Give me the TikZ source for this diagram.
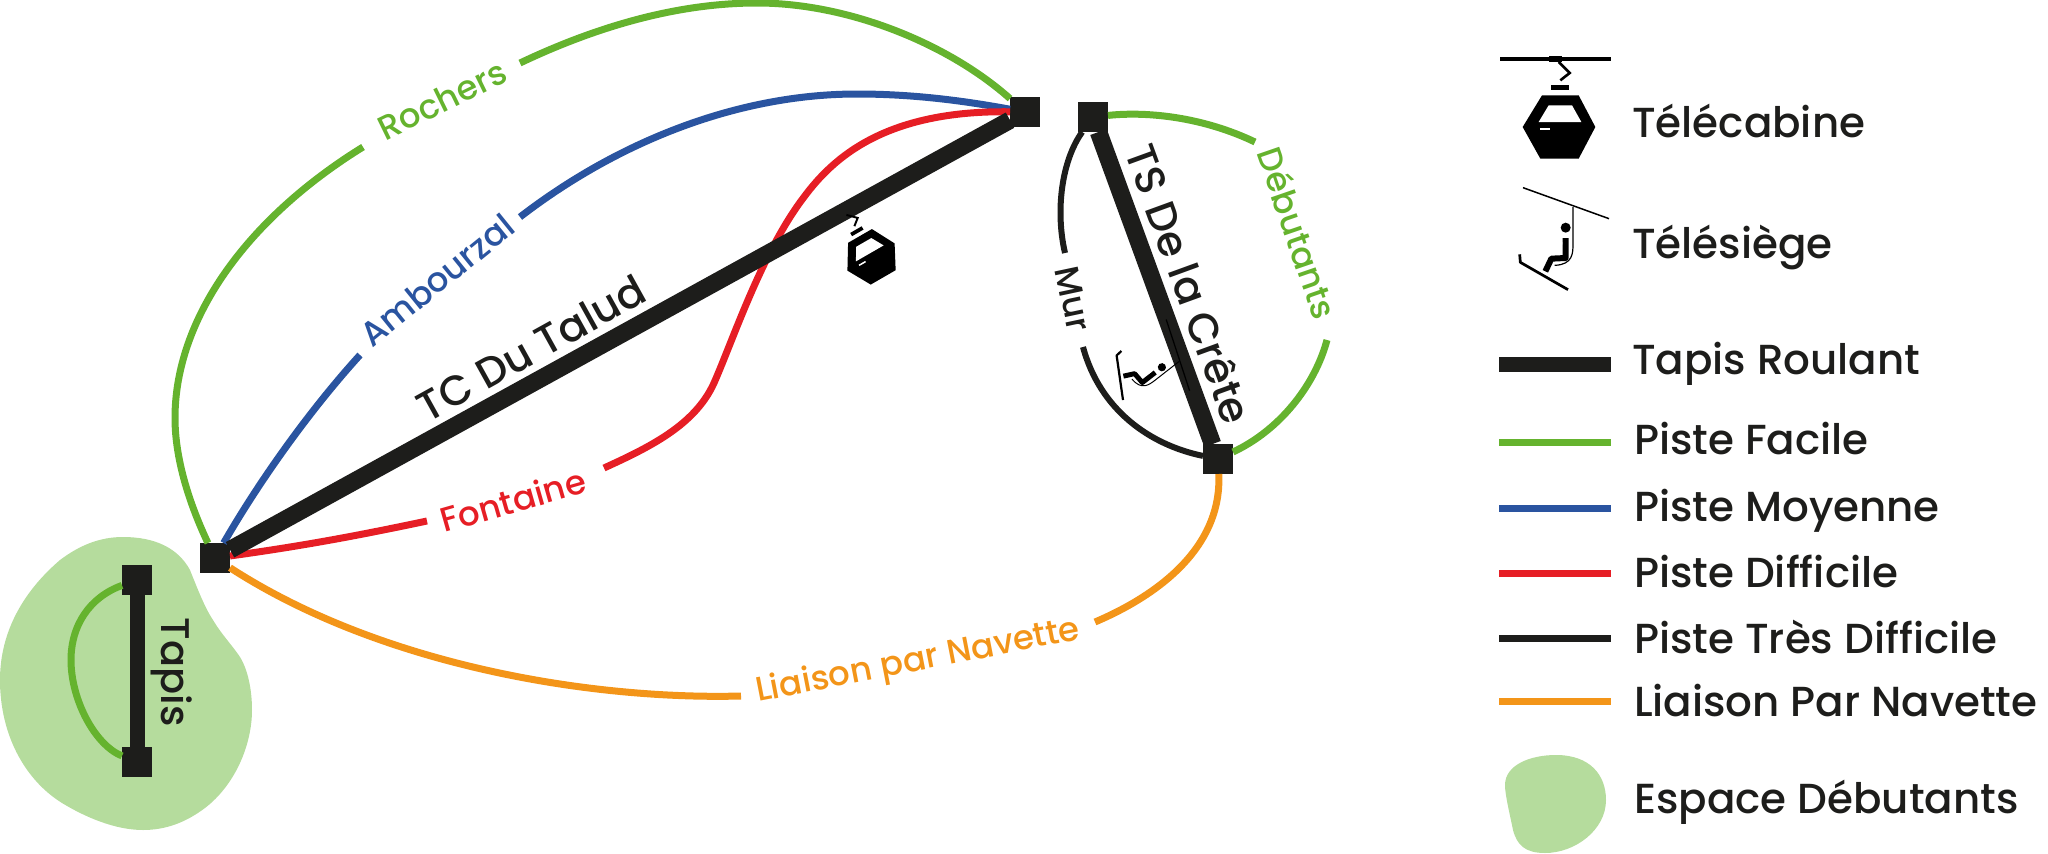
\documentclass[tikz,border=0pt]{standalone}
\usepackage{fontspec}
\setmainfont{Poppins Medium}
\definecolor{pgreen}{HTML}{65B32E}
\definecolor{pblue}{HTML}{2A54A0}
\definecolor{pred}{HTML}{E61E25}
\definecolor{pblack}{HTML}{1D1D1B}
\definecolor{porange}{HTML}{F39519}
\definecolor{pzone}{HTML}{B5DC9D}
\newcommand\cabinshape[4]{%
  \begin{scope}[shift={(#1,#2)},rotate=#3,scale=#4/3]
    \fill[black] (-51,-95) -- (59,-95) -- (109,0) -- (59,95) -- (-56,95) -- (-109,0) -- cycle;
    \fill[white] (-31,-65) -- (39,-65) -- (67,-15) -- (-61,-15) -- cycle;
    \fill[white] (-58,2) rectangle (-28,8);
    \fill[black] (-24,-125) rectangle (29,-110);
    \draw[black,line width=#4*2.6pt] (-1,-195) -- (32,-162) -- (4,-140);
  \end{scope}}
\newcommand\chairshape[4]{%
  \begin{scope}[shift={(#1,#2)},rotate=#3,scale=#4/3]
    \draw[black,line width=#4*1.5pt] (-129,-46) -- (129,47);
    \draw[black,line width=#4*1.2pt] (21,12) -- (21,122) .. controls (21,150) and (21,185) .. (-34,187);
    \fill[black] (-1,74) circle (15);
    \draw[black,line width=#4*6pt,line join=round] (-1,105) -- (-1,165) -- (-44,167) -- (-62,205);
    \draw[white,line width=#4*0.8pt,line join=round] (-12,118) -- (-17,148) -- (-40,155);
    \draw[black,line width=#4*2.7pt,line join=round] (-139,154) -- (-137,178) -- (6,260);
  \end{scope}}
\tikzset{
  station/.style={fill=pblack,minimum size=30pt,inner sep=0pt,outer sep=0pt},
  lift/.style={draw=pblack,line width=17.5pt},
  shortlift/.style={draw=pblack,line width=15pt},
  run/.style={line width=7pt},
  tag/.style={inner sep=0pt,font=\fontsize{34}{34}\selectfont,anchor=center},
  lifttag/.style={inner sep=0pt,font=\fontsize{42}{42}\selectfont,text=pblack,anchor=center},
  legendtext/.style={inner sep=0pt,anchor=base west,font=\fontsize{42}{42}\selectfont,text=pblack},
}
\begin{document}
\begin{tikzpicture}[x=1pt,y=-1pt]
\useasboundingbox (0,0) rectangle (2048,854);
% beginner zone
\fill[pzone] (123,537) .. controls (155,537) and (178,548) .. (190,570)
  .. controls (198,590) and (205,608) .. (213,620)
  .. controls (222,635) and (232,645) .. (240,657)
  .. controls (248,670) and (252,690) .. (252,710)
  .. controls (252,745) and (235,785) .. (205,808)
  .. controls (185,823) and (165,830) .. (143,830)
  .. controls (115,830) and (85,817) .. (62,803)
  .. controls (25,780) and (0,735) .. (0,680)
  .. controls (0,630) and (25,590) .. (60,560)
  .. controls (80,545) and (100,537) .. (123,537) -- cycle;
% stations
\node[station] (A) at (215,558) {};
\node[station] (B) at (1025,112) {};
\node[station] (C) at (1093,117) {};
\node[station] (D) at (1218,459) {};
\node[station] (E) at (137,580) {};
\node[station] (F) at (137,762) {};
% label-side free ends
\coordinate (rochA) at (363,147);
\coordinate (rochB) at (520,63);
\coordinate (ambA) at (360,355);
\coordinate (ambB) at (520,217);
\coordinate (fontA) at (427,521);
\coordinate (fontB) at (604,468);
\coordinate (liaA) at (741,696);
\coordinate (liaB) at (1095,622);
\coordinate (debA) at (1255,142);
\coordinate (debB) at (1327,340);
\coordinate (murA) at (1065,253);
\coordinate (murB) at (1083,347);
% runs
\draw[run,pgreen] (A) .. controls (190,505) and (175,460) .. (175,418) .. controls (175,320) and (245,220) .. (rochA);
\draw[run,pgreen] (rochB) .. controls (600,25) and (680,3) .. (757,3) .. controls (850,3) and (950,45) .. (B);
\draw[run,pblue] (A) .. controls (260,480) and (310,410) .. (ambA);
\draw[run,pblue] (ambB) .. controls (620,140) and (740,94) .. (857,94) .. controls (910,94) and (960,100) .. (B);
\draw[run,pred] (A) .. controls (310,545) and (370,533) .. (fontA);
\draw[run,pred] (fontB) .. controls (650,447) and (695,425) .. (714,383) .. controls (733,340) and (762,252) .. (804,197) .. controls (833,158) and (885,110) .. (B);
\draw[run,porange] (A) .. controls (380,665) and (590,700) .. (liaA);
\draw[run,porange] (liaB) .. controls (1170,590) and (1222,540) .. (D);
\draw[run,pgreen] (C) .. controls (1150,111) and (1205,118) .. (debA);
\draw[run,pgreen] (D) .. controls (1280,430) and (1315,385) .. (debB);
\draw[run,pblack,line width=6pt] (C) .. controls (1062,160) and (1055,210) .. (murA);
\draw[run,pblack,line width=6pt] (murB) .. controls (1100,410) and (1150,445) .. (D);
\draw[run,pgreen] (E) .. controls (90,597) and (71,625) .. (71,660) .. controls (71,700) and (95,745) .. (F);
% lifts
\draw[lift] (A) -- (B);
\draw[lift] (C) -- (D);
\draw[shortlift] (E) -- (F);
% labels
\node[tag,text=pgreen,rotate=26] (lr) at (442,100) {Rochers};
\node[tag,text=pblue,rotate=39] (la) at (437,280) {Ambourzal};
\node[tag,text=pred,rotate=16] (lf) at (513,500) {Fontaine};
\node[tag,text=porange,rotate=11] (ll) at (918,662) {Liaison par Navette};
\node[tag,text=pgreen,rotate=-71] (ld) at (1298,233) {Débutants};
\node[tag,text=pblack,rotate=-78] (lm) at (1073,299) {Mur};
\node[lifttag,rotate=29] (lt) at (531,348) {TC Du Talud};
\node[lifttag,rotate=-70] (ls) at (1189,284) {TS De la Crête};
\node[lifttag,rotate=-90,font=\fontsize{40}{40}\selectfont] (lp) at (172,672) {Tapis};
% icons on the lifts
\cabinshape{871}{257}{30}{0.75}
\chairshape{1178}{355}{-52}{0.82}
% legend
\draw[black,line width=4pt] (1500,59) -- (1611,59);
\fill[black] (1549,56) rectangle (1562,62);
\cabinshape{1559}{127}{0}{1}
\chairshape{1566}{203}{0}{1}
\node[legendtext] (t1) at (1632,137) {Télécabine};
\node[legendtext] (t2) at (1632,258) {Télésiège};
\coordinate (k3a) at (1499,364); \coordinate (k3b) at (1611,364);
\coordinate (k4a) at (1499,442); \coordinate (k4b) at (1611,442);
\coordinate (k5a) at (1499,508); \coordinate (k5b) at (1611,508);
\coordinate (k6a) at (1499,573); \coordinate (k6b) at (1611,573);
\coordinate (k7a) at (1499,638); \coordinate (k7b) at (1611,638);
\coordinate (k8a) at (1499,701); \coordinate (k8b) at (1611,701);
\draw[shortlift] (k3a) -- (k3b);
\draw[run,pgreen] (k4a) -- (k4b);
\draw[run,pblue] (k5a) -- (k5b);
\draw[run,pred] (k6a) -- (k6b);
\draw[run,pblack] (k7a) -- (k7b);
\draw[run,porange] (k8a) -- (k8b);
\node[legendtext] (t3) at (1632,374) {Tapis Roulant};
\node[legendtext] (t4) at (1634,454) {Piste Facile};
\node[legendtext] (t5) at (1634,521) {Piste Moyenne};
\node[legendtext] (t6) at (1634,587) {Piste Difficile};
\node[legendtext] (t7) at (1634,653) {Piste Très Difficile};
\node[legendtext] (t8) at (1634,716) {Liaison Par Navette};
\fill[pzone] (1556,755) .. controls (1590,755) and (1606,775) .. (1606,800)
  .. controls (1606,830) and (1575,853) .. (1545,853)
  .. controls (1525,853) and (1517,845) .. (1513,830)
  .. controls (1510,815) and (1505,795) .. (1505,785)
  .. controls (1505,765) and (1530,755) .. (1556,755) -- cycle;
\node[legendtext] (t9) at (1634,813) {Espace Débutants};
\end{tikzpicture}
\end{document}
